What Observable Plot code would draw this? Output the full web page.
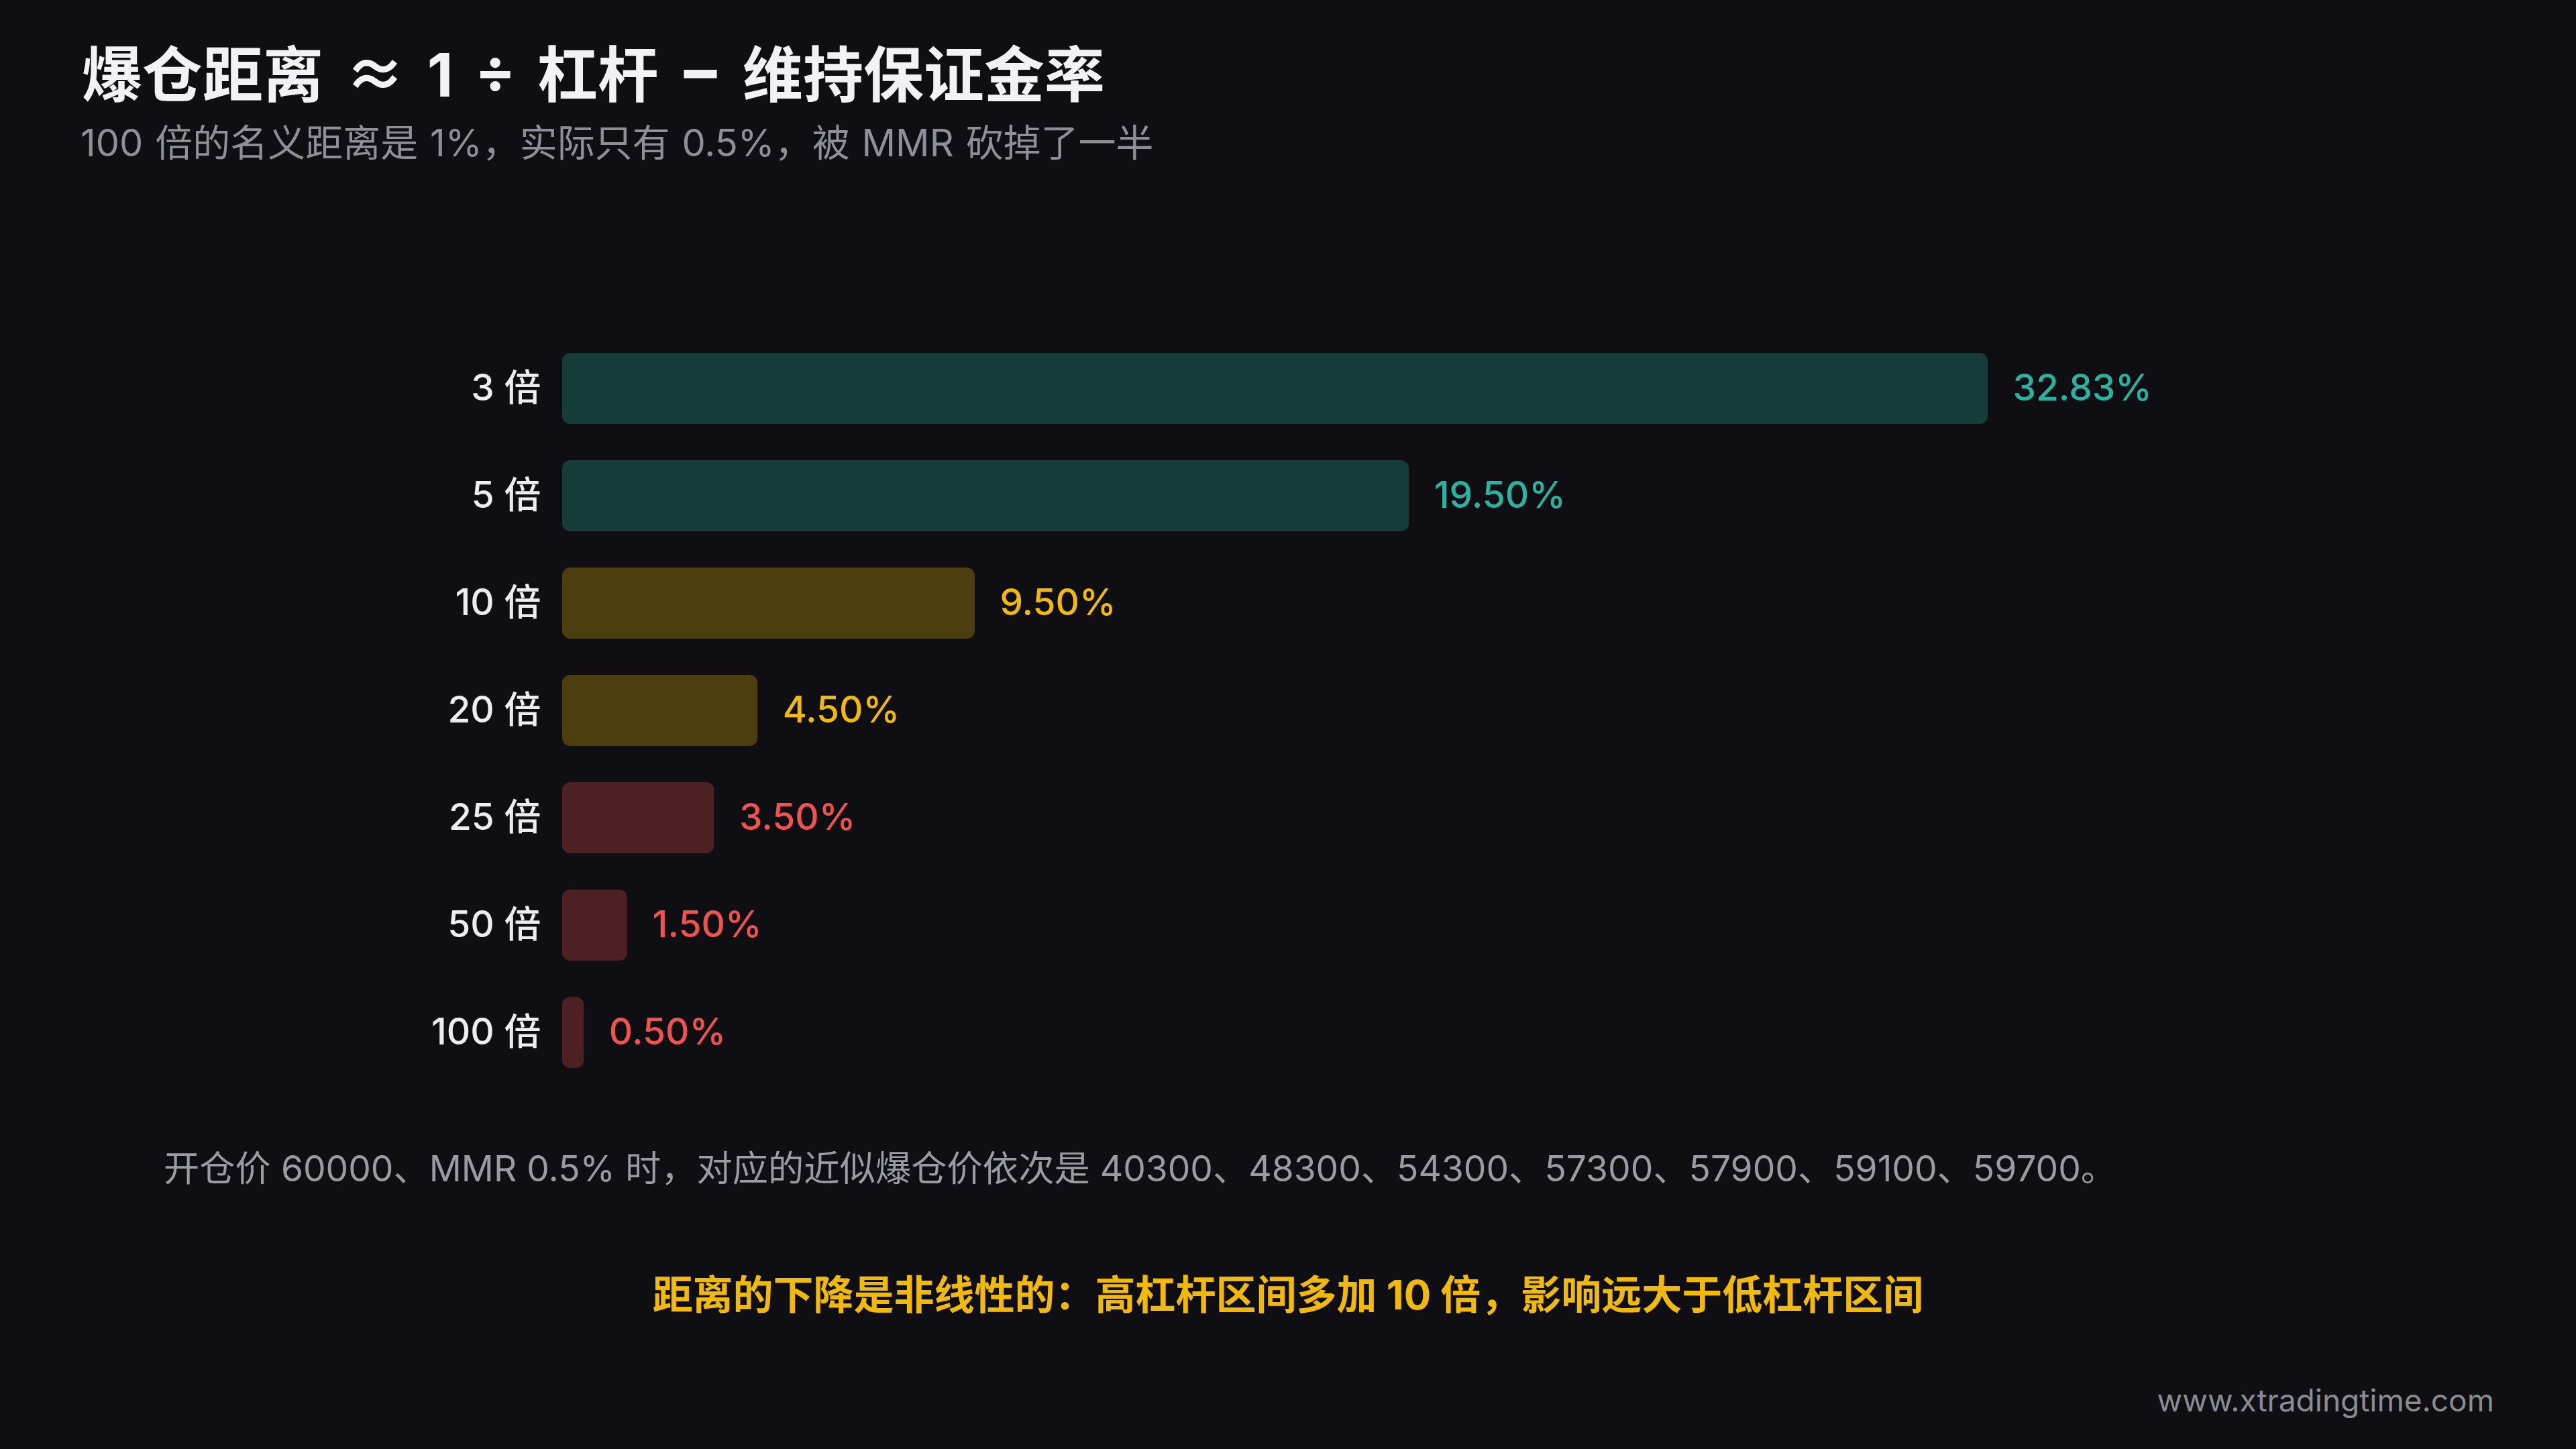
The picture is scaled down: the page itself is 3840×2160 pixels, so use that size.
<!DOCTYPE html>
<html>
<head>
<meta charset="utf-8">
<script src="https://cdn.jsdelivr.net/npm/d3@7"></script>
<script src="https://cdn.jsdelivr.net/npm/@observablehq/plot@0.6"></script>
<style>
  html, body { margin: 0; padding: 0; background: #0e0e13; }
  body { width: 3840px; height: 2160px; position: relative; overflow: hidden;
         font-family: Inter, "Noto Sans CJK SC", sans-serif; }
  .t { position: absolute; white-space: nowrap; line-height: 1; }
  #title { left: 122px; top: 60px; font-size: 90px; font-weight: 700; color: #f2f2f5; word-spacing: 11px; }
  #title .op { font-family: "Noto Sans CJK SC", sans-serif; }
  #title .minus { display: inline-block; margin: 0 4px; -webkit-text-stroke: 3px #f2f2f5; }
  #subtitle { left: 120px; top: 185px; font-size: 56px; font-weight: 400; color: #8e8f98; word-spacing: 2px; }
  #chart { position: absolute; left: 0; top: 499px; }
  #note { left: 244px; top: 1715px; font-size: 53.3px; color: #9a9ba3; }
  #key { left: 0; width: 3840px; text-align: center; top: 1900px; font-size: 60px; font-weight: 700; color: #f0b90b; }
  #mark { right: 122px; top: 2064px; font-size: 46px; color: #8a8c94; }
</style>
</head>
<body>
<div class="t" id="title">爆仓距离 <span class="op">≈</span> 1 ÷ 杠杆 <span class="op minus">−</span> 维持保证金率</div>
<div class="t" id="subtitle">100 倍的名义距离是 1%，实际只有 0.5%，被 MMR 砍掉了一半</div>
<div id="chart"></div>
<div class="t" id="note">开仓价 60000、MMR 0.5% 时，对应的近似爆仓价依次是 40300、48300、54300、57300、57900、59100、59700。</div>
<div class="t" id="key">距离的下降是非线性的：高杠杆区间多加 10 倍，影响远大于低杠杆区间</div>
<div class="t" id="mark">www.xtradingtime.com</div>
<script>
const leverage = ["3 倍", "5 倍", "10 倍", "20 倍", "25 倍", "50 倍", "100 倍"];
const distance = [32.83, 19.50, 9.50, 4.50, 3.50, 1.50, 0.50];
const risk = ["low", "low", "mid", "mid", "high", "high", "high"];
const riskDomain = ["low", "mid", "high"];
const riskColors = ["#2ab3a0", "#f0b90b", "#ef5350"];

const data = leverage.map((l, i) => ({ lev: l, dist: distance[i], risk: risk[i] }));

const chart = Plot.plot({
  width: 3840,
  height: 1120,
  marginLeft: 838,
  marginRight: 877,
  marginTop: 0,
  marginBottom: 0,
  style: { background: "transparent", fontFamily: 'Inter, "Noto Sans CJK SC", sans-serif', overflow: "visible" },
  x: { domain: [0, 32.83], axis: null },
  y: { domain: leverage, axis: null, paddingInner: 0.3375, paddingOuter: 0.16875 },
  color: { domain: riskDomain, range: riskColors },
  marks: [
    Plot.barX(data, { y: "lev", x: "dist", fill: "risk", fillOpacity: 0.28, rx: 12 }),
    Plot.text(data, { y: "lev", x: 0, text: "lev", textAnchor: "end", dx: -32,
      fill: "#ececf1", fontSize: 55, fontWeight: 500 }),
    Plot.text(data, { y: "lev", x: "dist", text: d => d.dist.toFixed(2) + "%", textAnchor: "start", dx: 37,
      fill: "risk", fontSize: 55, fontWeight: 500 })
  ]
});
document.getElementById("chart").appendChild(chart);
</script>
</body>
</html>
